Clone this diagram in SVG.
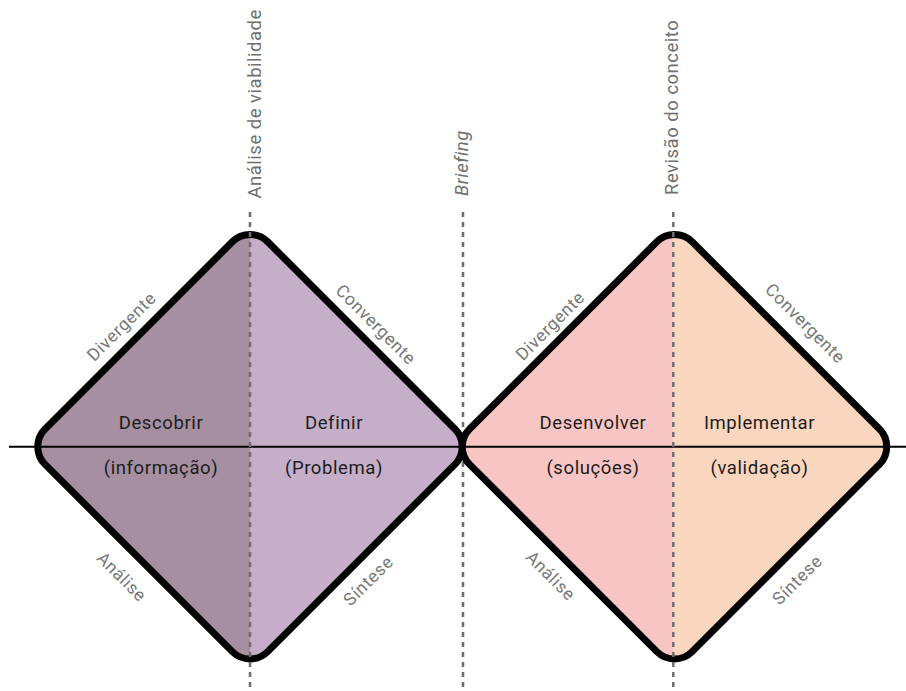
<svg xmlns="http://www.w3.org/2000/svg" width="906" height="691" viewBox="0 0 906 691">
  <style>
    .outline { fill: none; stroke: #000; stroke-width: 7; }
    .axis { stroke: #000; stroke-width: 2; }
    .guide { stroke: #6e6e6e; stroke-width: 2.5; stroke-dasharray: 5 5; }
    .phase { font-family: Roboto, "Liberation Sans", sans-serif; font-size: 18.5px; letter-spacing: 0.6px; fill: #1c1c1c; text-anchor: middle; }
    .mode { font-family: Roboto, "Liberation Sans", sans-serif; font-size: 17.5px; letter-spacing: 0.6px; fill: #787878; text-anchor: middle; }
    .gate { font-family: Roboto, "Liberation Sans", sans-serif; font-size: 18.5px; letter-spacing: 0.5px; fill: #6f6f6f; }
  </style>
  <defs>
    <clipPath id="clip-first">
      <rect x="-157.4" y="-157.4" width="314.8" height="314.8" rx="25" transform="translate(250 446.7) rotate(45)"/>
    </clipPath>
    <clipPath id="clip-second">
      <rect x="-157.4" y="-157.4" width="314.8" height="314.8" rx="25" transform="translate(674.5 446.7) rotate(45)"/>
    </clipPath>
  </defs>

  <rect width="906" height="691" fill="#fff"/>

  <!-- briefing guide sits behind the diamonds -->
  <g id="guide-briefing">
    <line class="guide" x1="463" y1="212" x2="463" y2="691"/>
    <text class="gate" font-style="italic" transform="translate(467.5 196) rotate(-90)">Briefing</text>
  </g>

  <!-- first diamond: discover / define -->
  <g id="diamond-problem">
    <g clip-path="url(#clip-first)">
      <rect x="30" y="225" width="220" height="445" fill="#a58fa1"/>
      <rect x="250" y="225" width="220" height="445" fill="#c5aec8"/>
    </g>
    <rect class="outline" x="-157.4" y="-157.4" width="314.8" height="314.8" rx="25" transform="translate(250 446.7) rotate(45)"/>
    <text class="phase" x="161" y="428.5">Descobrir</text>
    <text class="phase" x="334" y="428.5">Definir</text>
    <text class="phase" x="161" y="473.5">(informação)</text>
    <text class="phase" x="334" y="473.5">(Problema)</text>
    <text class="mode" transform="translate(125.7 330.7) rotate(-45)">Divergente</text>
    <text class="mode" transform="translate(371.6 328.6) rotate(45)">Convergente</text>
    <text class="mode" transform="translate(117.5 581) rotate(45)">Análise</text>
    <text class="mode" transform="translate(372.5 585) rotate(-45)">Síntese</text>
  </g>

  <!-- second diamond: develop / deliver -->
  <g id="diamond-solution">
    <g clip-path="url(#clip-second)">
      <rect x="455" y="225" width="218.5" height="445" fill="#f7c5c3"/>
      <rect x="673.5" y="225" width="225" height="445" fill="#fbd6be"/>
    </g>
    <rect class="outline" x="-157.4" y="-157.4" width="314.8" height="314.8" rx="25" transform="translate(674.5 446.7) rotate(45)"/>
    <text class="phase" x="593" y="428.5">Desenvolver</text>
    <text class="phase" x="759.5" y="428.5">Implementar</text>
    <text class="phase" x="593" y="473.5">(soluções)</text>
    <text class="phase" x="759.5" y="473.5">(validação)</text>
    <text class="mode" transform="translate(554.4 330) rotate(-45)">Divergente</text>
    <text class="mode" transform="translate(801 327.5) rotate(45)">Convergente</text>
    <text class="mode" transform="translate(546.5 580) rotate(45)">Análise</text>
    <text class="mode" transform="translate(801.5 584.2) rotate(-45)">Síntese</text>
  </g>

  <!-- horizontal axis and stage-gate guides -->
  <g id="connectors">
    <line class="axis" x1="9" y1="446.7" x2="906" y2="446.7"/>
    <line class="guide" x1="250" y1="212" x2="250" y2="691"/>
    <line class="guide" x1="673.3" y1="212" x2="673.3" y2="691"/>
  </g>

  <g id="gate-feasibility">
    <text class="gate" transform="translate(260.5 198.5) rotate(-90)">Análise de viabilidade</text>
  </g>
  <g id="gate-concept">
    <text class="gate" transform="translate(678.3 195) rotate(-90)">Revisão do conceito</text>
  </g>
</svg>
